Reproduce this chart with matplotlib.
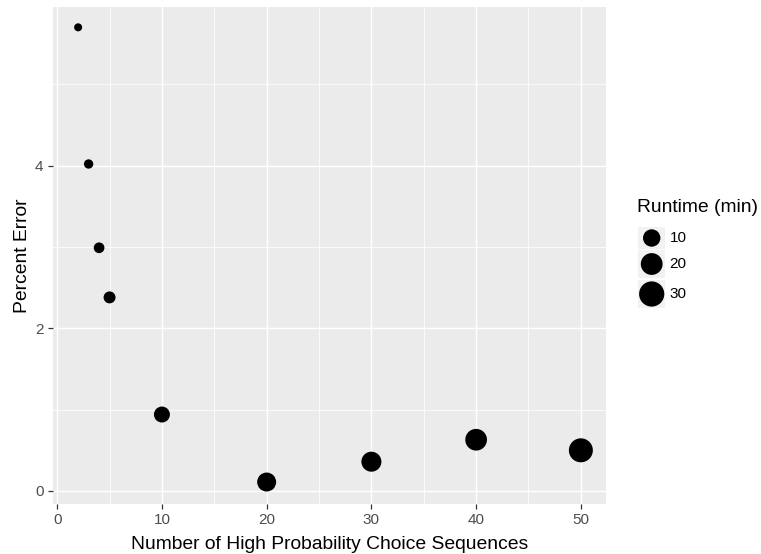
import matplotlib
matplotlib.use("Agg")
import matplotlib.pyplot as plt
import numpy as np
from matplotlib.patches import Rectangle

# ---- data ----
n_sequences = [2, 3, 4, 5, 10, 20, 30, 40, 50]
percent_error = [5.70, 4.02, 2.99, 2.38, 0.94, 0.11, 0.36, 0.63, 0.50]
runtime_min = [0.15, 0.6, 1.4, 2.4, 7.5, 13.2, 15.5, 19.7, 26.2]
legend_breaks = [10, 20, 30]
x_ticks = [0, 10, 20, 30, 40, 50]
y_ticks = [0, 2, 4]

DPI = 100
W, H = 761, 554
plt.rcParams['font.family'] = ['Liberation Sans', 'DejaVu Sans']


def size_pt2(v):
    d_px = 6.74 + 3.37 * np.sqrt(np.asarray(v, dtype=float))
    d_pt = d_px * 72.0 / DPI
    return d_pt ** 2


fig = plt.figure(figsize=(W / DPI, H / DPI), dpi=DPI)
fig.patch.set_facecolor('white')

L, R, T, B = 53, 606, 7, 504
ax = fig.add_axes([L / W, 1 - B / H, (R - L) / W, (B - T) / H])
ax.set_facecolor('#EBEBEB')
for s in ax.spines.values():
    s.set_visible(False)

ax.set_xlim(-0.4, 52.4)
ax.set_ylim(-0.16, 5.95)

ax.set_xticks(x_ticks)
ax.set_yticks(y_ticks)
ax.set_xticks([5, 15, 25, 35, 45], minor=True)
ax.set_yticks([1, 3, 5], minor=True)
ax.grid(which='major', color='white', linewidth=1.05)
ax.grid(which='minor', color='white', linewidth=0.55)
ax.set_axisbelow(True)
ax.tick_params(which='major', length=3.3, width=0.9, color='#333333',
               labelcolor='#4D4D4D', labelsize=11, pad=3.5)
ax.tick_params(which='minor', length=0)

ax.scatter(n_sequences, percent_error, s=size_pt2(runtime_min),
           color='black', edgecolors='none', zorder=3)

ax.set_xlabel('Number of High Probability Choice Sequences', fontsize=13.9,
              color='black', labelpad=6)
ax.set_ylabel('Percent Error', fontsize=13.9, color='black', labelpad=3)

# ---- legend (ggplot style) ----
lx0, lx1, ly0, ly1 = 630, 760, 195, 312
lax = fig.add_axes([lx0 / W, 1 - ly1 / H, (lx1 - lx0) / W, (ly1 - ly0) / H])
lax.set_xlim(lx0, lx1)
lax.set_ylim(ly1, ly0)
lax.axis('off')
lax.text(637.5, 208, 'Runtime (min)', fontsize=13.9, va='center', ha='left',
         color='black')
box_tops = [227, 250, 280]
box_bottoms = [249, 278, 308]
for b, top, bot in zip(legend_breaks, box_tops, box_bottoms):
    lax.add_patch(Rectangle((638, top), 27.5, bot - top, facecolor='#F2F2F2',
                            edgecolor='none'))
    cy = (top + bot) / 2
    lax.scatter([651.7], [cy], s=size_pt2([b]), color='black',
                edgecolors='none', zorder=3)
    lax.text(669.5, cy, str(b), fontsize=11, va='center', ha='left',
             color='black')

fig.savefig('out.png', dpi=DPI)
